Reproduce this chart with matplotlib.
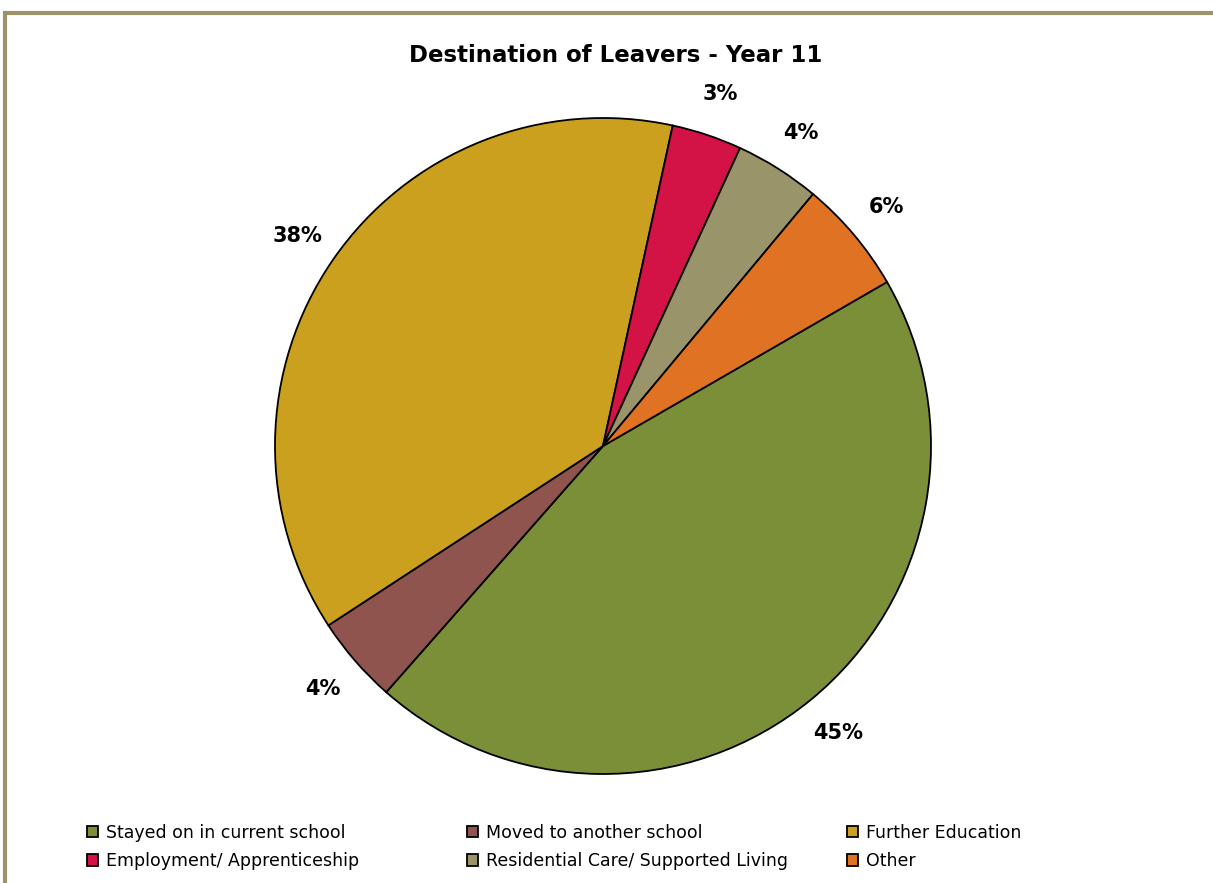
import matplotlib
matplotlib.use("Agg")
import matplotlib.pyplot as plt
from matplotlib.patches import Rectangle

categories = ["Stayed on in current school", "Moved to another school", "Further Education",
              "Employment/ Apprenticeship", "Residential Care/ Supported Living", "Other"]
values = [44.8, 4.3, 37.6, 3.45, 4.2, 5.6]
colors = ["#7A8F37", "#8E544D", "#CAA01E", "#D31345", "#99946A", "#E07224"]

W, H = 1213, 883
fig = plt.figure(figsize=(W / 100, H / 100), dpi=100)
plt.rcParams['font.family'] = ['DejaVu Sans']

# outer frame (cut off at right and bottom)
fig.patches.append(Rectangle((5 / W, -0.05), 1.2, (H - 13) / H + 0.05, transform=fig.transFigure,
                             fill=False, edgecolor="#9A9468", linewidth=3))

cx, cy, r = 603, 446, 328
ax = fig.add_axes([(cx - r) / W, (H - cy - r) / H, 2 * r / W, 2 * r / H])
wedges, texts, autotexts = ax.pie(values, colors=colors, startangle=30, counterclock=False,
                                  autopct=lambda p: "%d%%" % round(p), pctdistance=1.13,
                                  wedgeprops=dict(edgecolor="black", linewidth=1.3))
for t in autotexts:
    t.set_fontsize(15)
    t.set_fontweight("bold")
ax.set_xlim(-1, 1)
ax.set_ylim(-1, 1)
ax.set_aspect("equal")

fig.text(616 / W, 1 - 55 / H, "Destination of Leavers - Year 11", ha="center", va="center",
         fontsize=16.5, fontweight="bold")

# legend laid out row-wise, 3 columns
col_x = [78, 458, 838]
for c in range(3):
    idx = [c, c + 3]
    fig.legend([wedges[i] for i in idx], [categories[i] for i in idx], loc="upper left",
               bbox_to_anchor=(col_x[c] / W, 1 - 815 / H), frameon=False, fontsize=12.5,
               handlelength=0.65, handleheight=0.65, handletextpad=0.45, labelspacing=0.6,
               borderpad=0)

fig.savefig("out.png", dpi=100)
